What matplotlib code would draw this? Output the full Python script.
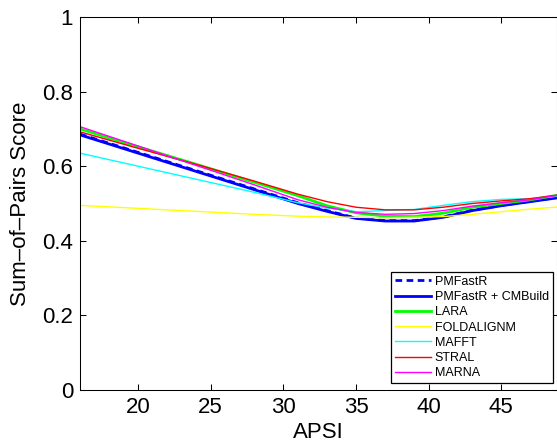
import matplotlib
matplotlib.use("Agg")
import matplotlib.pyplot as plt

plt.rcParams['font.family'] = ['Liberation Sans', 'DejaVu Sans']

x = [16, 20, 24, 28, 31, 33, 35, 37, 39, 41, 43, 45, 47, 49]

pmfastr = [0.686, 0.637, 0.588, 0.539, 0.502, 0.481, 0.461, 0.454, 0.454, 0.464, 0.482, 0.495, 0.506, 0.517]
pmfastr_cm = [0.684, 0.635, 0.586, 0.537, 0.500, 0.479, 0.460, 0.453, 0.453, 0.463, 0.481, 0.494, 0.505, 0.516]
lara = [0.700, 0.652, 0.605, 0.557, 0.521, 0.494, 0.475, 0.466, 0.465, 0.474, 0.490, 0.500, 0.510, 0.523]
foldalignm = [0.495, 0.487, 0.479, 0.471, 0.466, 0.464, 0.463, 0.462, 0.463, 0.465, 0.471, 0.478, 0.485, 0.491]
mafft = [0.635, 0.600, 0.565, 0.530, 0.502, 0.488, 0.478, 0.481, 0.484, 0.495, 0.505, 0.511, 0.513, 0.520]
stral = [0.692, 0.648, 0.605, 0.560, 0.525, 0.505, 0.490, 0.483, 0.483, 0.490, 0.500, 0.507, 0.513, 0.523]
marna = [0.706, 0.654, 0.602, 0.550, 0.510, 0.490, 0.476, 0.471, 0.473, 0.481, 0.493, 0.502, 0.510, 0.523]

labels = ["PMFastR", "PMFastR + CMBuild", "LARA", "FOLDALIGNM", "MAFFT", "STRAL", "MARNA"]
xticks = [20, 25, 30, 35, 40, 45]
yticks = [0, 0.2, 0.4, 0.6, 0.8, 1]
ytick_labels = ["0", "0.2", "0.4", "0.6", "0.8", "1"]

W, H = 557, 448
fig = plt.figure(figsize=(W / 100, H / 100), dpi=100)
ax = fig.add_axes([80 / W, (H - 390) / H, (556.5 - 80) / W, (390 - 17) / H])

ax.plot(x, pmfastr, color='#0000ff', lw=2, linestyle=(0, (2.4, 1.6)), label=labels[0])
ax.plot(x, pmfastr_cm, color='#0000ff', lw=2, label=labels[1])
ax.plot(x, lara, color='#00ff00', lw=2, label=labels[2])
ax.plot(x, foldalignm, color='#ffff00', lw=1.0, label=labels[3])
ax.plot(x, mafft, color='#00ffff', lw=1.0, label=labels[4])
ax.plot(x, stral, color='#ff0000', lw=1.0, label=labels[5])
ax.plot(x, marna, color='#ff00ff', lw=1.0, label=labels[6])

ax.set_xlim(16, 48.8)
ax.set_ylim(0, 1)
ax.set_xticks(xticks)
ax.set_yticks(yticks)
ax.set_yticklabels(ytick_labels)
ax.tick_params(direction='in', top=True, right=True, length=4, width=0.75,
               labelsize=16, pad=5)
for s in ax.spines.values():
    s.set_linewidth(0.75)

ax.set_xlabel("APSI", fontsize=16, labelpad=3)
ax.set_ylabel("Sum–of–Pairs Score", fontsize=16, labelpad=8)

leg = ax.legend(loc='lower right', bbox_to_anchor=((553 - 80) / 477, (390 - 383) / 373),
                fontsize=9, frameon=True, fancybox=False, framealpha=1,
                edgecolor='black', labelspacing=0.26, handlelength=2.9,
                handletextpad=0.3, borderpad=0.3, borderaxespad=0)
leg.get_frame().set_linewidth(0.9)

fig.savefig("out.png", dpi=100)
